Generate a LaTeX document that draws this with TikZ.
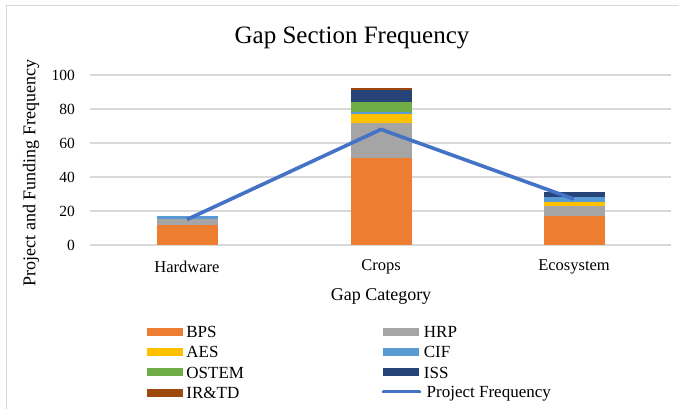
\documentclass[tikz,border=0pt]{standalone}
\usepackage{fontspec}
\setmainfont{Liberation Serif}
\usetikzlibrary{positioning}
\definecolor{cBPS}{HTML}{ED7D31}
\definecolor{cHRP}{HTML}{A5A5A5}
\definecolor{cAES}{HTML}{FFC000}
\definecolor{cCIF}{HTML}{5B9BD5}
\definecolor{cOSTEM}{HTML}{70AD47}
\definecolor{cISS}{HTML}{264478}
\definecolor{cIRTD}{HTML}{9E480E}
\definecolor{cPF}{HTML}{4472C4}
\definecolor{gridgray}{HTML}{D9D9D9}
\tikzset{
  ttl/.style={font=\fontsize{25}{28}\selectfont, inner sep=0pt},
  axttl/.style={font=\fontsize{18}{20}\selectfont, inner sep=0pt},
  catlbl/.style={font=\fontsize{16.5}{18}\selectfont, inner sep=0pt},
  ticklbl/.style={font=\fontsize{15.5}{17}\selectfont, inner sep=0pt, anchor=east},
  gridln/.style={draw=gridgray, line width=1.3pt},
  swatch/.style={minimum width=36pt, minimum height=8pt, inner sep=0pt},
  leglbl/.style={font=\fontsize{17}{19}\selectfont, inner sep=0pt, anchor=west,
                 text height=12pt, text depth=0.8pt},
  pfline/.style={draw=cPF, line width=3.6pt, line join=round, line cap=round},
}

\begin{document}
\begin{tikzpicture}[x=1pt, y=1pt, node distance=12pt and 3pt]
  \clip (0,0) rectangle (679,409);
  \fill[white] (0,0) rectangle (679,409);
  % chart frame, runs off the page on the right and bottom
  \draw[gridgray, line width=1.3pt] (6.5,-20) |- (700,403.5);

  \node[ttl] (title) at (352,371) {Gap Section Frequency};

  % plot area: origin on the zero line, 1.7pt per unit
  \begin{scope}[shift={(90,164)}, y=1.7pt]
    \foreach \v in {0,20,...,100} {
      \draw[gridln] (0,\v) -- (581,\v);
      \node[ticklbl] (tick\v) at (-15,\v) {\v};
    }
    % stacked bars: centre / colour / bottom / top
    \foreach \cx/\col/\lo/\hi in {
        97/cBPS/0/12, 97/cHRP/12/15, 97/cCIF/15/17,
        291/cBPS/0/51, 291/cHRP/51/72, 291/cAES/72/77, 291/cCIF/77/78,
        291/cOSTEM/78/84, 291/cISS/84/91, 291/cIRTD/91/92.2,
        484/cBPS/0/17, 484/cHRP/17/23, 484/cAES/23/25, 484/cCIF/25/28,
        484/cISS/28/31}
      \fill[\col] (\cx-30.5,\lo) rectangle (\cx+30.5,\hi);
    % project frequency
    \coordinate (pf1) at (97,15);
    \coordinate (pf2) at (291,68);
    \coordinate (pf3) at (484,27);
    \draw[pfline, line cap=butt] (pf1) -- (pf2) -- (pf3);
  \end{scope}

  % axis labels
  \node[catlbl] (hw)  at (187,142) {Hardware};
  \node[catlbl] (crp) at (381,142) {Crops};
  \node[catlbl] (eco) at (574,142) {Ecosystem};
  \node[axttl] (xlab) at (381,113) {Gap Category};
  \node[axttl, rotate=90] (ylab) at (31,236) {Project and Funding Frequency};

  % legend, left column
  \node[swatch, fill=cBPS] (sBPS) at (165,77.3) {};
  \node[leglbl, right=of sBPS] (lBPS) {BPS};
  \node[swatch, fill=cAES, below=of sBPS] (sAES) {};
  \node[leglbl, right=of sAES] (lAES) {AES};
  \node[swatch, fill=cOSTEM, below=of sAES] (sOSTEM) {};
  \node[leglbl, right=of sOSTEM] (lOSTEM) {OSTEM};
  \node[swatch, fill=cIRTD, below=of sOSTEM] (sIRTD) {};
  \node[leglbl, right=of sIRTD] (lIRTD) {IR\&TD};
  % legend, right column
  \node[swatch, fill=cHRP] (sHRP) at (400.5,77.3) {};
  \node[leglbl, right=5pt of sHRP] (lHRP) {HRP};
  \node[swatch, fill=cCIF, below=of sHRP] (sCIF) {};
  \node[leglbl, right=5pt of sCIF] (lCIF) {CIF};
  \node[swatch, fill=cISS, below=of sCIF] (sISS) {};
  \node[leglbl, right=5pt of sISS] (lISS) {ISS};
  \coordinate (pfa) at (383.5,17.3);
  \coordinate[right=36pt of pfa] (pfb);
  \draw[pfline] (pfa) -- (pfb);
  \node[leglbl, right=7pt of pfb] (lPF) {Project Frequency};
\end{tikzpicture}
\end{document}
